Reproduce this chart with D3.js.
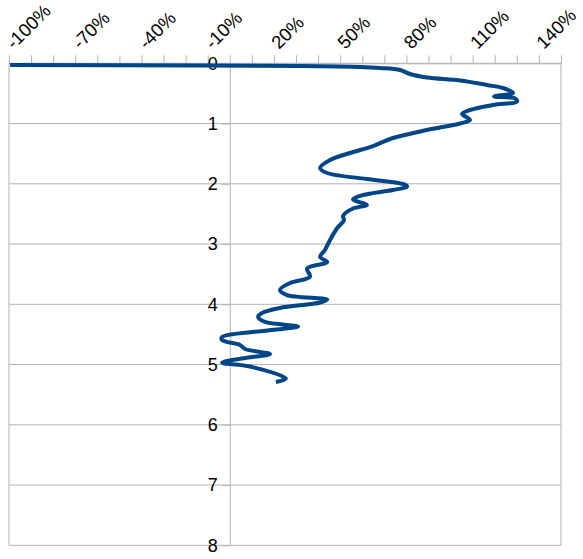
<!DOCTYPE html>
<html>
<head>
<meta charset="utf-8">
<script src="https://cdn.jsdelivr.net/npm/d3@7"></script>
<style>
  body { margin: 0; background: #fff; }
  text { font-family: "Liberation Sans", Arial, sans-serif; }
</style>
</head>
<body>
<svg id="chart" width="583" height="559"></svg>
<script>
// values: percent change (x) against depth (y)
const pct = [-99.5, -13.5, 31.8, 58.9, 68.0, 77.1, 81.6, 89.3, 104.3, 116.5, 123.7, 128.3, 119.7, 129.2, 130.1,
  119.2, 108.8, 105.2, 108.8, 104.3, 89.3, 73.9, 64.9, 54.4, 45.4, 40.9, 44.1, 62.1, 78.4, 80.3, 73.9, 60.3,
  55.8, 62.1, 55.8, 51.3, 51.7, 48.5, 45.4, 43.1, 40.9, 44.1, 35.0, 36.3, 27.3, 22.7, 25.9, 44.1, 40.9, 22.7,
  14.6, 12.8, 15.9, 30.9, 19.1, -3.5, -3.5, 4.6, 6.9, 18.2, 10.1, -3.5, 9.1, 25.4, 20.9];
const depth = [0.028, 0.037, 0.045, 0.061, 0.078, 0.111, 0.177, 0.236, 0.285, 0.36, 0.41, 0.493, 0.551, 0.584, 0.634,
  0.692, 0.775, 0.841, 0.941, 0.999, 1.107, 1.24, 1.373, 1.489, 1.605, 1.738, 1.821, 1.92, 2.003, 2.045, 2.103, 2.186,
  2.261, 2.352, 2.41, 2.534, 2.601, 2.742, 2.932, 3.098, 3.215, 3.298, 3.406, 3.539, 3.646, 3.763, 3.846, 3.92, 3.97, 4.061,
  4.144, 4.21, 4.293, 4.368, 4.427, 4.543, 4.593, 4.676, 4.742, 4.825, 4.875, 4.966, 5.032, 5.232, 5.29];

const xTicks = d3.range(-100, 151, 10);
const xLabels = [-100, -70, -40, -10, 20, 50, 80, 110, 140];
const yTicks = [0, 1, 2, 3, 4, 5, 6, 7, 8];

const svg = d3.select("#chart");
const plot = { left: 9, right: 561, top: 63.3, bottom: 545.3 };

const x = d3.scaleLinear().domain([-100, 150]).range([plot.left, plot.right]);
const y = d3.scaleLinear().domain([0, 8]).range([plot.top, plot.bottom]);
const grid = "#b3b3b3";

// horizontal grid lines
svg.append("g")
  .selectAll("line")
  .data(yTicks)
  .join("line")
  .attr("x1", plot.left).attr("x2", plot.right)
  .attr("y1", d => y(d)).attr("y2", d => y(d))
  .attr("stroke", grid);

// box sides
svg.append("line").attr("x1", plot.left).attr("x2", plot.left).attr("y1", plot.top).attr("y2", plot.bottom).attr("stroke", grid);
svg.append("line").attr("x1", plot.right).attr("x2", plot.right).attr("y1", plot.top).attr("y2", plot.bottom).attr("stroke", grid);

// top axis
const xAxis = svg.append("g")
  .attr("transform", `translate(0,${plot.top})`)
  .call(d3.axisTop(x).tickValues(xTicks).tickSize(8).tickSizeOuter(0).tickFormat(""));
xAxis.select(".domain").attr("stroke", grid);
xAxis.selectAll(".tick line").attr("stroke", grid);

svg.append("g")
  .selectAll("text")
  .data(xLabels)
  .join("text")
  .attr("transform", d => `translate(${x(d) + 5},50) rotate(-45)`)
  .attr("font-size", 18.5)
  .attr("fill", "#000")
  .text(d => d + "%");

// vertical axis at x = 0
const yAxis = svg.append("g")
  .attr("transform", `translate(${x(0)},0)`)
  .call(d3.axisLeft(y).tickValues(yTicks).tickSize(8).tickSizeOuter(0).tickPadding(4));
yAxis.select(".domain").attr("stroke", grid);
yAxis.selectAll(".tick line").attr("stroke", grid);
yAxis.selectAll(".tick text")
  .attr("font-size", 18)
  .attr("fill", "#000")
  .style("font-family", "'Liberation Sans', Arial, sans-serif");

// the series
const line = d3.line()
  .x(d => x(d[0]))
  .y(d => y(d[1]))
  .curve(d3.curveCatmullRom.alpha(0.5));

svg.append("path")
  .datum(pct.map((v, i) => [v, depth[i]]))
  .attr("fill", "none")
  .attr("stroke", "#004586")
  .attr("stroke-width", 4)
  .attr("stroke-linejoin", "round")
  .attr("d", line);
</script>
</body>
</html>
